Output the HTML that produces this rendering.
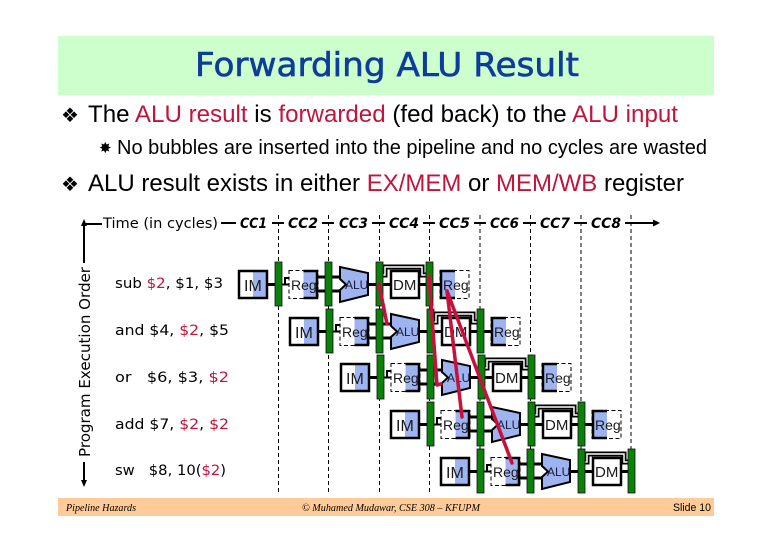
<!DOCTYPE html>
<html>
<head>
<meta charset="utf-8">
<style>
html,body{margin:0;padding:0;background:#fff;width:780px;height:540px;overflow:hidden}
svg{display:block}
text{font-family:"Liberation Sans",sans-serif;fill:#000}
.c{font-family:"DejaVu Sans",sans-serif;font-size:14px}
.cc{font-family:"DejaVu Sans",sans-serif;font-size:14px;font-style:oblique;font-weight:bold}
.r{fill:#c0143c}
.im{font-size:16px;fill:#1a1a1a}
.rg{font-size:14px;fill:#1a1a1a}
.dm{font-size:15px;fill:#1a1a1a}
.a{font-size:12px;fill:#1a1a3a}
.f{font-family:"Liberation Serif",serif;font-style:italic;font-size:11px}
</style>
</head>
<body>
<svg width="780" height="540" viewBox="0 0 780 540" xmlns="http://www.w3.org/2000/svg">
<defs>
<g id="p">
  <g stroke="#000" stroke-width="3" fill="none">
    <path d="M30 14.5H37M80 7H87M80 21H87M94 7H102M94 21H102M130 14.5H138M145 14.5H152M182 14.5H188"/>
    <path d="M44 14.5H51M47 14.5V8H51" stroke-width="2"/>
  </g>
  <rect x="15" y="1" width="15" height="27" fill="#9db4f0"/>
  <rect x="1" y="1" width="28" height="27" fill="none" stroke="#000" stroke-width="2.5"/>
  <rect x="51" y="0.5" width="29" height="28" fill="#fff" stroke="#000" stroke-width="1" stroke-dasharray="4 2.5"/>
  <rect x="65.5" y="0" width="14" height="29" fill="#9db4f0"/>
  <path d="M65.5 1H79V28H65.5" fill="none" stroke="#000" stroke-width="2.5"/>
  <polygon points="102,-3 130,3 130,25 102,32 102,20 108,14.5 102,9" fill="#9db4f0" stroke="#000" stroke-width="2"/>
  <path d="M145 5H147V-3H184V5H188" fill="none" stroke="#000" stroke-width="5"/>
  <path d="M145 5H147V-3H184V5H188" fill="none" stroke="#fff" stroke-width="1.5"/>
  <rect x="153" y="1" width="28" height="27" fill="#fff" stroke="#000" stroke-width="2.5"/>
  <g fill="#0a820a" stroke="#111" stroke-width="0.8">
    <rect x="37" y="-8" width="7" height="44"/>
    <rect x="87" y="-8" width="7" height="44"/>
    <rect x="138" y="-8" width="7" height="44"/>
    <rect x="188" y="-8" width="7" height="44"/>
  </g>
</g>
<g id="w">
  <path d="M195 14.5H202" stroke="#000" stroke-width="3"/>
  <rect x="202" y="0.5" width="29" height="28" fill="#fff" stroke="#000" stroke-width="1" stroke-dasharray="4 2.5"/>
  <rect x="202" y="0" width="15" height="29" fill="#9db4f0"/>
  <path d="M217 1H203V28H217" fill="none" stroke="#000" stroke-width="2.5"/>
</g>
</defs>

<rect x="58" y="36" width="656" height="59" fill="#ccffcc"/>
<rect x="58" y="498" width="656" height="18" fill="#ffcc99"/>
<text x="195" y="76" font-size="33" textLength="384" lengthAdjust="spacingAndGlyphs" stroke="#0f3c9c" stroke-width="0.6" style="font-family:'DejaVu Sans',sans-serif;fill:#0f3c9c">Forwarding ALU Result</text>

<text x="61" y="122" font-size="20" style="font-family:'DejaVu Sans',sans-serif">❖</text>
<text x="88" y="122" font-size="24" textLength="590" lengthAdjust="spacingAndGlyphs">The <tspan class="r">ALU result</tspan> is <tspan class="r">forwarded</tspan> (fed back) to the <tspan class="r">ALU input</tspan></text>
<text x="99" y="153" font-size="15" style="font-family:'DejaVu Sans',sans-serif">✸</text>
<text x="117" y="154" font-size="20" textLength="590" lengthAdjust="spacingAndGlyphs">No bubbles are inserted into the pipeline and no cycles are wasted</text>
<text x="61" y="191" font-size="20" style="font-family:'DejaVu Sans',sans-serif">❖</text>
<text x="88" y="191" font-size="24" textLength="596" lengthAdjust="spacingAndGlyphs">ALU result exists in either <tspan class="r">EX/MEM</tspan> or <tspan class="r">MEM/WB</tspan> register</text>

<!-- axes -->
<g stroke="#000" stroke-width="2" fill="none">
  <path d="M84 224H102M84 224V263M84 462V484"/>
  <path d="M221 223H236M272 223H284M322 223H334M372 223H385M423 223H435M474 223H486M523 223H536M574 223H587M625 223H655"/>
</g>
<polygon points="84,219 81,226 87,226" fill="#000"/>
<polygon points="84,487 81,480 87,480" fill="#000"/>
<polygon points="660,223 653,219.5 653,226.5" fill="#000"/>

<text class="c" x="103" y="228" textLength="115" lengthAdjust="spacingAndGlyphs">Time (in cycles)</text>
<text class="cc" x="240" y="228" textLength="27" lengthAdjust="spacingAndGlyphs">CC1</text>
<text class="cc" x="288" y="228" textLength="30" lengthAdjust="spacingAndGlyphs">CC2</text>
<text class="cc" x="339" y="228" textLength="29" lengthAdjust="spacingAndGlyphs">CC3</text>
<text class="cc" x="389" y="228" textLength="30" lengthAdjust="spacingAndGlyphs">CC4</text>
<text class="cc" x="439" y="228" textLength="31" lengthAdjust="spacingAndGlyphs">CC5</text>
<text class="cc" x="490" y="228" textLength="29" lengthAdjust="spacingAndGlyphs">CC6</text>
<text class="cc" x="540" y="228" textLength="30" lengthAdjust="spacingAndGlyphs">CC7</text>
<text class="cc" x="591" y="228" textLength="30" lengthAdjust="spacingAndGlyphs">CC8</text>

<text class="c" transform="translate(90,457) rotate(-90)" x="0" y="0" textLength="190" lengthAdjust="spacingAndGlyphs" style="font-size:15px">Program Execution Order</text>

<text class="c" x="115" y="288" textLength="108" lengthAdjust="spacingAndGlyphs">sub <tspan class="r">$2</tspan>, $1, $3</text>
<text class="c" x="115" y="335" textLength="114" lengthAdjust="spacingAndGlyphs">and $4, <tspan class="r">$2</tspan>, $5</text>
<text class="c" x="115" y="382" textLength="114" lengthAdjust="spacingAndGlyphs" xml:space="preserve">or   $6, $3, <tspan class="r">$2</tspan></text>
<text class="c" x="115" y="429" textLength="114" lengthAdjust="spacingAndGlyphs">add $7, <tspan class="r">$2</tspan>, <tspan class="r">$2</tspan></text>
<text class="c" x="115" y="475" textLength="111" lengthAdjust="spacingAndGlyphs" xml:space="preserve">sw   $8, 10(<tspan class="r">$2</tspan>)</text>

<!-- dashed clock lines -->
<g stroke="#000" stroke-width="1" stroke-dasharray="4 3" fill="none">
  <path d="M278.5 215V494M328.5 215V494M379.5 215V494M429.5 215V494M480 215V494M530.5 215V494M581 215V494M631 215V494"/>
</g>

<use href="#p" x="238" y="270"/><use href="#w" x="238" y="270"/>
<use href="#p" x="289" y="317"/><use href="#w" x="289" y="317"/>
<use href="#p" x="340" y="363"/><use href="#w" x="340" y="363"/>
<use href="#p" x="390" y="410"/><use href="#w" x="390" y="410"/>
<use href="#p" x="440" y="457"/>

<g>
<text class="im" x="244" y="291">IM</text><text class="rg" x="291" y="290">Reg</text><text class="a" x="345" y="289">ALU</text><text class="dm" x="393" y="290">DM</text><text class="rg" x="443" y="290">Reg</text>
<text class="im" x="295" y="338">IM</text><text class="rg" x="342" y="337">Reg</text><text class="a" x="396" y="336">ALU</text><text class="dm" x="444" y="337">DM</text><text class="rg" x="494" y="337">Reg</text>
<text class="im" x="346" y="384">IM</text><text class="rg" x="393" y="383">Reg</text><text class="a" x="447" y="382">ALU</text><text class="dm" x="495" y="383">DM</text><text class="rg" x="545" y="383">Reg</text>
<text class="im" x="396" y="431">IM</text><text class="rg" x="443" y="430">Reg</text><text class="a" x="497" y="429">ALU</text><text class="dm" x="545" y="430">DM</text><text class="rg" x="595" y="430">Reg</text>
<text class="im" x="446" y="478">IM</text><text class="rg" x="493" y="477">Reg</text><text class="a" x="547" y="476">ALU</text><text class="dm" x="595" y="477">DM</text>
</g>

<!-- forwarding arrows -->
<g stroke="#c8103c" stroke-width="3.5" fill="none" stroke-linecap="round" stroke-linejoin="round">
  <path d="M379 284L387 324"/>
  <path d="M429 276L437 385L441 384"/>
  <path d="M447 291L462 417"/>
  <path d="M447 291L512 463"/>
</g>

<text class="f" x="66" y="511" textLength="70" lengthAdjust="spacingAndGlyphs">Pipeline Hazards</text>
<text class="f" x="302" y="511" textLength="178" lengthAdjust="spacingAndGlyphs">© Muhamed Mudawar, CSE 308 – KFUPM</text>
<text x="673" y="511" font-size="11" textLength="38" lengthAdjust="spacingAndGlyphs">Slide 10</text>
</svg>
</body>
</html>
